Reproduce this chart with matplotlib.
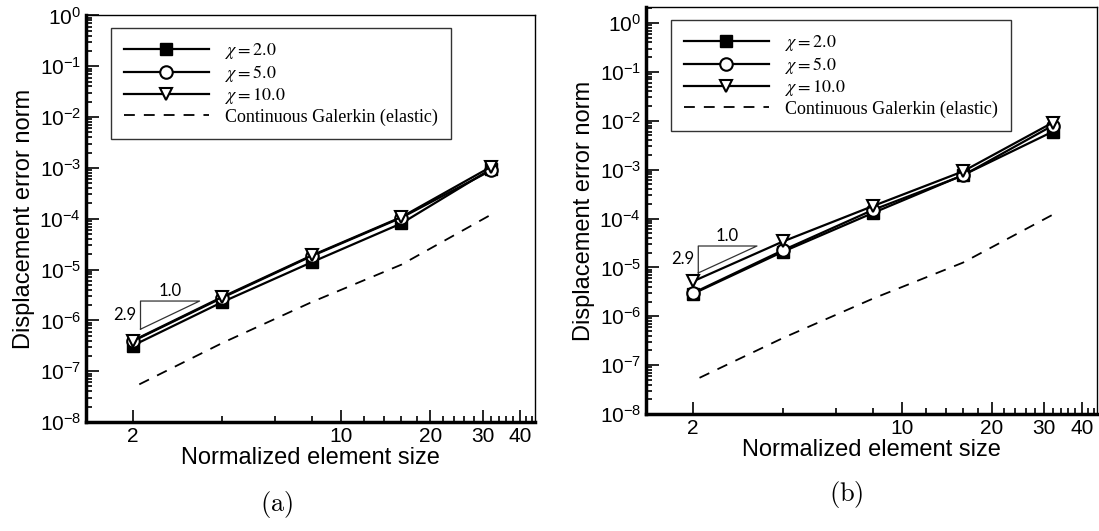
import matplotlib
matplotlib.use("Agg")
import matplotlib.pyplot as plt
from matplotlib.ticker import FixedLocator, FixedFormatter, LogLocator, NullFormatter

plt.rcParams['font.family'] = ['Liberation Sans', 'DejaVu Sans']
plt.rcParams['axes.unicode_minus'] = False

# normalized element size
h = [2, 4, 8, 16, 32]
h_cg = [2.1, 4, 8, 16, 32]

# (a)
a_chi2 = [3.2e-7, 2.3e-6, 1.4e-5, 8.1e-5, 9.5e-4]
a_chi5 = [3.9e-7, 2.8e-6, 1.85e-5, 1.05e-4, 8.9e-4]
a_chi10 = [4.0e-7, 2.9e-6, 1.9e-5, 1.08e-4, 1.05e-3]
# (b)
b_chi2 = [2.9e-6, 2.1e-5, 1.3e-4, 7.7e-4, 6.0e-3]
b_chi5 = [3.0e-6, 2.25e-5, 1.5e-4, 7.6e-4, 8.0e-3]
b_chi10 = [5.2e-6, 3.4e-5, 1.8e-4, 9.2e-4, 9.2e-3]
# continuous galerkin (elastic), same in both
cg_elastic = [5.5e-8, 3.6e-7, 2.3e-6, 1.25e-5, 1.2e-4]

labels = [r'$\chi = 2.0$', r'$\chi = 5.0$', r'$\chi = 10.0$', 'Continuous Galerkin (elastic)']
xticks = [2, 10, 20, 30, 40]
xminor = [4, 6, 8, 12, 14, 16, 18, 22, 24, 26, 28, 32, 34, 36, 38, 42, 44]

# slope triangle corners (x0, x1), (y_bottom, y_top)
tri_a = ([2.12, 3.35], [6.7e-7, 2.4e-6])
tri_b = ([2.08, 3.27], [7.7e-6, 2.74e-5])

W, H = 1099, 531
fig = plt.figure(figsize=(W / 100, H / 100), dpi=100)


def make_panel(rect, ylim, s2, s5, s10, tri, leg_xy, caption, cap_xy):
    ax = fig.add_axes(rect)
    ax.plot(h, s2, '-', color='k', lw=1.6, marker='s', ms=8, mfc='k', mec='k', label=labels[0])
    ax.plot(h, s5, '-', color='k', lw=1.6, marker='o', ms=9, mfc='white', mec='k', mew=1.5, label=labels[1])
    ax.plot(h, s10, '-', color='k', lw=1.6, marker='v', ms=9, mfc='white', mec='k', mew=1.5, label=labels[2])
    ax.plot(h_cg, cg_elastic, color='k', lw=1.3, dashes=(6, 5), label=labels[3])

    ax.set_xscale('log')
    ax.set_yscale('log')
    ax.set_xlim(1.39, 45)
    ax.set_ylim(*ylim)

    ax.xaxis.set_major_locator(FixedLocator(xticks))
    ax.xaxis.set_major_formatter(FixedFormatter([str(t) for t in xticks]))
    ax.xaxis.set_minor_locator(FixedLocator(xminor))
    ax.xaxis.set_minor_formatter(NullFormatter())
    ax.yaxis.set_major_locator(LogLocator(base=10, numticks=20))
    ax.yaxis.set_minor_locator(LogLocator(base=10, subs=range(2, 10), numticks=20))
    ax.yaxis.set_minor_formatter(NullFormatter())
    ax.tick_params(which='both', direction='in', top=False, right=False, labelsize=15, width=1.2)
    ax.tick_params(which='major', length=9)
    ax.tick_params(which='minor', length=4.5)

    for s in ['left', 'bottom']:
        ax.spines[s].set_linewidth(2.5)
    for s in ['top', 'right']:
        ax.spines[s].set_linewidth(1.0)

    ax.set_xlabel('Normalized element size', fontsize=17, labelpad=1)
    ax.set_ylabel('Displacement error norm', fontsize=17, labelpad=3)

    # slope triangle
    tx, ty = tri
    ax.plot([tx[0], tx[0], tx[1], tx[0]], [ty[0], ty[1], ty[1], ty[0]], color='#333333', lw=0.9)
    ax.text((tx[0] * tx[1]) ** 0.5, ty[1] * 1.12, '1.0', family='Lato', fontsize=12,
            ha='center', va='bottom')
    ax.text(tx[0] * 0.97, (ty[0] * ty[1]) ** 0.5, '2.9', family='Lato', fontsize=12,
            ha='right', va='center')

    leg = ax.legend(loc='upper left', bbox_to_anchor=(leg_xy[0] / W, 1 - leg_xy[1] / H),
                    bbox_transform=fig.transFigure, fancybox=False, edgecolor='#333333',
                    framealpha=1, prop={'family': 'Liberation Serif', 'size': 13},
                    handlelength=4.7, handletextpad=0.9, labelspacing=0.12, borderpad=0.72,
                    borderaxespad=0)
    leg.get_frame().set_linewidth(1.0)
    for t in leg.get_texts():
        t.set_math_fontfamily('stix')

    fig.text(cap_xy[0] / W, 1 - cap_xy[1] / H, caption, fontsize=19, ha='center', va='center',
             math_fontfamily='cm')
    return ax


make_panel([86 / W, 1 - 422 / H, 449 / W, 407 / H], (1e-8, 1.02), a_chi2, a_chi5, a_chi10,
           tri_a, (111, 28), r'$\mathrm{(a)}$', (277, 504))
make_panel([646 / W, 1 - 414 / H, 451 / W, 407 / H], (1e-8, 2.13), b_chi2, b_chi5, b_chi10,
           tri_b, (671, 20), r'$\mathrm{(b)}$', (846, 494))

fig.savefig('out.png', dpi=100)
